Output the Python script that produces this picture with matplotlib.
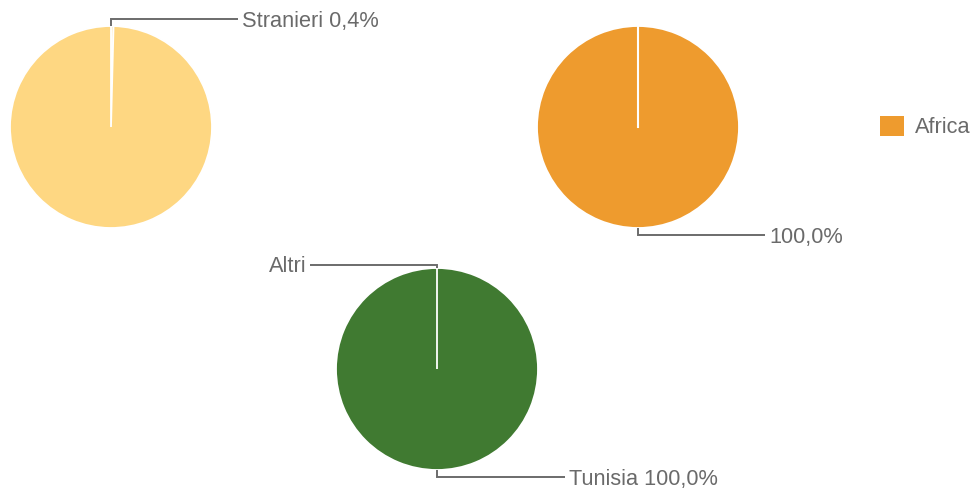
import matplotlib
matplotlib.use("Agg")
import matplotlib.pyplot as plt
from matplotlib.patches import Patch

W, H = 978, 493

# Data
cittadinanza_labels = ["Stranieri", "Italiani"]
cittadinanza_values = [0.4, 99.6]
continenti_labels = ["Africa"]
continenti_values = [100.0]
paesi_labels = ["Tunisia", "Altri"]
paesi_values = [100.0, 0.0]

yellow = "#FED782"
orange = "#EE9B2E"
green = "#407A31"
line_c = "#6b6b6b"
text_c = "#6a6a6a"

plt.rcParams['font.family'] = ['Liberation Sans', 'DejaVu Sans']

fig = plt.figure(figsize=(W / 100, H / 100), dpi=100)
ax = fig.add_axes([0, 0, 1, 1])
ax.set_xlim(0, W)
ax.set_ylim(0, H)
ax.set_aspect('equal')
ax.axis('off')

R = 101
def py(y):
    return H - y

wp = dict(edgecolor='white', linewidth=1.3)

# pie 1: cittadinanza
c1 = (111, py(127))
ax.pie(cittadinanza_values, colors=[yellow, yellow], startangle=90, counterclock=False,
       center=c1, radius=R, wedgeprops=wp, normalize=True)
# pie 2: continenti
c2 = (638, py(127))
w2, _ = ax.pie(continenti_values, colors=[orange], startangle=90, counterclock=False,
               center=c2, radius=R, wedgeprops=wp, normalize=True)
ax.plot([c2[0], c2[0]], [c2[1], c2[1] + R], color='white', lw=1.5)
# pie 3: paesi
c3 = (437, py(369))
ax.pie(paesi_values, colors=[green, green], startangle=90, counterclock=False,
       center=c3, radius=R, wedgeprops=wp, normalize=True)

ax.set_xlim(0, W)
ax.set_ylim(0, H)

fs = 15.7
def leader(x0, y0, ydir, x1, text, ha='left'):
    yk = y0 + ydir * 7
    ax.plot([x0, x0, x1], [y0, yk, yk], color=line_c, lw=1.4, solid_capstyle='butt',
            solid_joinstyle='miter')
    tx = x1 + 4 if ha == 'left' else x1 - 3
    ax.text(tx, yk - 2, text, ha=ha, va='center', fontsize=fs, color=text_c)

# labels
leader(c1[0], c1[1] + R, 1, 238, f"{cittadinanza_labels[0]} {cittadinanza_values[0]:.1f}%".replace('.', ','))
leader(c2[0], c2[1] - R, -1, 765, f"{continenti_values[0]:.1f}%".replace('.', ','))
leader(c3[0], c3[1] + R, 0.5, 310, paesi_labels[1], ha='right')
leader(c3[0], c3[1] - R, -1, 565, f"{paesi_labels[0]} {paesi_values[0]:.1f}%".replace('.', ','))

# legend
leg = ax.legend(handles=[Patch(facecolor=orange, edgecolor='none')], labels=continenti_labels,
                loc='center left', bbox_to_anchor=(880 / W, py(127) / H),
                bbox_transform=fig.transFigure, frameon=False, fontsize=fs,
                handlelength=1.1, handleheight=1.1, handletextpad=0.5, borderpad=0,
                borderaxespad=0)
for t in leg.get_texts():
    t.set_color(text_c)

fig.savefig("out.png", dpi=100, facecolor='white')
